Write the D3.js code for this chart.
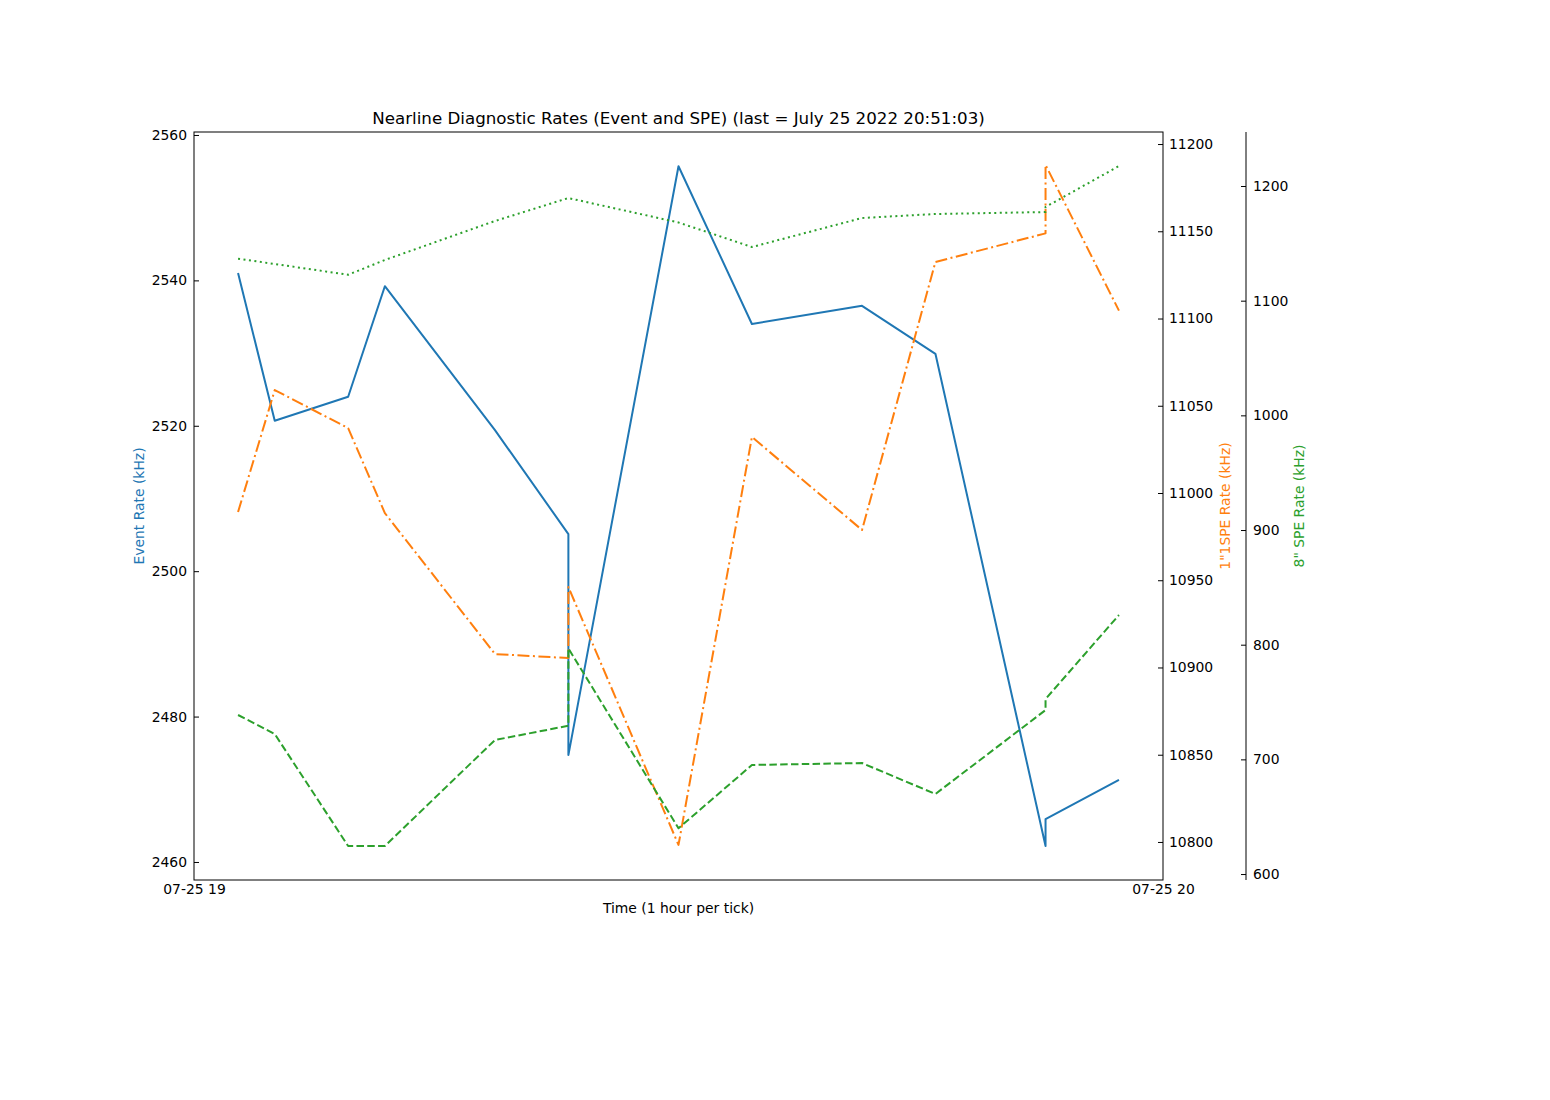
<!DOCTYPE html>
<html><head><meta charset="utf-8">
<script src="https://cdn.jsdelivr.net/npm/d3@7"></script>
<style>
body{margin:0;background:#fff}
text{font-family:"DejaVu Sans",sans-serif}
</style>
</head><body>
<svg id="c" width="1550" height="1100"></svg>
<script>
// ---- data ----
const timeIdx = [0, 1, 3, 4, 7, 9, 9, 12, 14, 17, 19, 22, 22, 24];
const eventRate = [2541.0, 2520.7, 2524.0, 2539.2, 2519.4, 2505.1, 2474.7, 2555.7, 2534.0, 2536.5, 2529.9, 2462.2, 2465.9, 2471.3];
const spe1Rate = [10989.1, 11059.0, 11037.2, 10988.5, 10907.7, 10905.4, 10946.1, 10798.3, 11032.1, 10978.8, 11132.4, 11148.8, 11188.0, 11104.5];
const spe8Rate = [738.7, 722.1, 624.4, 624.4, 716.9, 729.3, 796.8, 639.9, 695.1, 696.8, 669.8, 743.0, 752.6, 825.9];
const spe8RateB = [1136.6, 1132.0, 1122.6, 1135.5, 1169.5, 1189.5, 1189.5, 1168.2, 1146.8, 1172.1, 1175.6, 1177.3, 1181.7, 1217.4];
const xTickValues = [-1.2, 25.2];
const xTickLabels = ["07-25 19", "07-25 20"];
const eventTicks = [2460, 2480, 2500, 2520, 2540, 2560];
const spe1Ticks = [10800, 10850, 10900, 10950, 11000, 11050, 11100, 11150, 11200];
const spe8Ticks = [600, 700, 800, 900, 1000, 1100, 1200];
const titleText = "Nearline Diagnostic Rates (Event and SPE) (last = July 25 2022 20:51:03)";

// ---- layout ----
const L = 194, R = 1163, T = 132, B = 880, R2 = 1246;
const svg = d3.select("#c");
const fs = 13.9;

const x = d3.scaleLinear().domain([-1.2, 25.2]).range([L, R]);
const yE = d3.scaleLinear().domain([2457.52, 2560.41]).range([B, T]);
const y1 = d3.scaleLinear().domain([10778.2, 11206.9]).range([B, T]);
const y2 = d3.scaleLinear().domain([594.8, 1247.1]).range([B, T]);

const C_BLUE = "#1f77b4", C_ORANGE = "#ff7f0e", C_GREEN = "#2ca02c";

function drawLine(vals, ys, color, dash) {
  const line = d3.line().x((d, i) => x(timeIdx[i])).y(d => ys(d));
  svg.append("path").datum(vals).attr("d", line)
    .attr("fill", "none").attr("stroke", color).attr("stroke-width", 2)
    .attr("stroke-dasharray", dash || null).attr("stroke-linejoin", "round");
}
drawLine(eventRate, yE, C_BLUE, null);
drawLine(spe1Rate, y1, C_ORANGE, "12,3.5,2,3.5");
drawLine(spe8Rate, y2, C_GREEN, "7.5,3.3");
drawLine(spe8RateB, y2, C_GREEN, "2,3.5");

// frame
svg.append("rect").attr("x", L).attr("y", T).attr("width", R - L).attr("height", B - T)
  .attr("fill", "none").attr("stroke", "#000").attr("stroke-width", 1);
svg.append("line").attr("x1", R2).attr("x2", R2).attr("y1", T).attr("y2", B)
  .attr("stroke", "#000").attr("stroke-width", 1);

function styleAxis(g) {
  g.select(".domain").remove();
  g.selectAll("text").attr("font-size", fs).attr("font-family", "DejaVu Sans").attr("fill", "#000");
  g.selectAll("line").attr("stroke", "#000");
}

svg.append("g").attr("transform", `translate(${L},0)`)
  .call(d3.axisLeft(yE).tickValues(eventTicks).tickSize(-5).tickPadding(7).tickFormat(d3.format("d")))
  .call(styleAxis);
svg.append("g").attr("transform", `translate(${R},0)`)
  .call(d3.axisRight(y1).tickValues(spe1Ticks).tickSize(-5).tickPadding(6).tickFormat(d3.format("d")))
  .call(styleAxis);
svg.append("g").attr("transform", `translate(${R2},0)`)
  .call(d3.axisRight(y2).tickValues(spe8Ticks).tickSize(-5).tickPadding(7).tickFormat(d3.format("d")))
  .call(styleAxis);
svg.append("g").attr("transform", `translate(0,${B})`)
  .call(d3.axisBottom(x).tickValues(xTickValues).tickSize(0).tickPadding(4)
    .tickFormat((d, i) => xTickLabels[i]))
  .call(styleAxis);

// titles / labels
svg.append("text").attr("x", (L + R) / 2).attr("y", 124).attr("text-anchor", "middle")
  .attr("font-size", 16.7).text(titleText);
svg.append("text").attr("x", (L + R) / 2).attr("y", 913).attr("text-anchor", "middle")
  .attr("font-size", fs).text("Time (1 hour per tick)");
function ylab(cx, txt, color) {
  svg.append("text").attr("transform", `translate(${cx},${(T + B) / 2}) rotate(-90)`)
    .attr("text-anchor", "middle").attr("dy", "0.35em").attr("font-size", fs)
    .attr("fill", color).text(txt);
}
ylab(139, "Event Rate (kHz)", C_BLUE);
ylab(1225, "1\"1SPE Rate (kHz)", C_ORANGE);
ylab(1299, "8\" SPE Rate (kHz)", C_GREEN);
</script>
</body></html>
